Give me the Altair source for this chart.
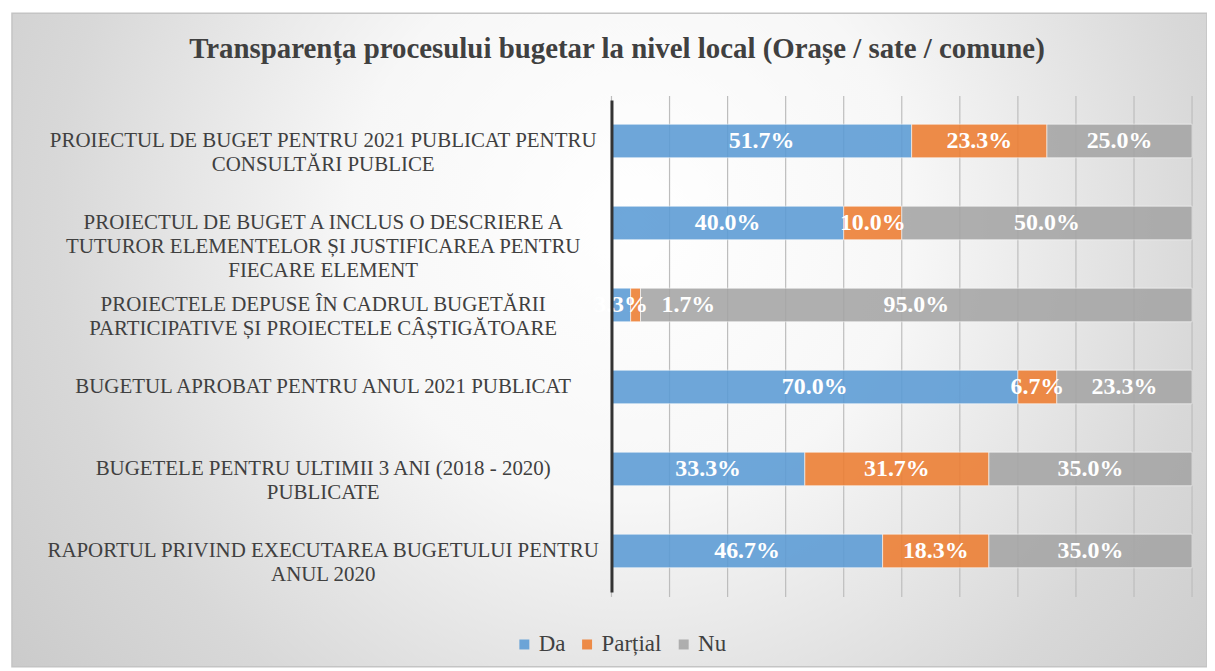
import altair as alt
import pandas as pd

categories = [
    "PROIECTUL DE BUGET PENTRU 2021 PUBLICAT PENTRU|CONSULTĂRI PUBLICE",
    "PROIECTUL DE BUGET A INCLUS O DESCRIERE A|TUTUROR ELEMENTELOR ȘI JUSTIFICAREA PENTRU|FIECARE ELEMENT",
    "PROIECTELE DEPUSE ÎN CADRUL BUGETĂRII|PARTICIPATIVE ȘI PROIECTELE CÂȘTIGĂTOARE",
    "BUGETUL APROBAT PENTRU ANUL 2021 PUBLICAT",
    "BUGETELE PENTRU ULTIMII 3 ANI (2018 - 2020)|PUBLICATE",
    "RAPORTUL PRIVIND EXECUTAREA BUGETULUI PENTRU|ANUL 2020",
]
series = ["Da", "Parțial", "Nu"]
da = [51.7, 40.0, 3.3, 70.0, 33.3, 46.7]
partial = [23.3, 10.0, 1.7, 6.7, 31.7, 18.3]
nu = [25.0, 50.0, 95.0, 23.3, 35.0, 35.0]
grid_ticks = [0, 10, 20, 30, 40, 50, 60, 70, 80, 90, 100]
colors = ["#5B9BD5", "#ED7D31", "#A5A5A5"]

rows = []
for i, c in enumerate(categories):
    for j, (s, v) in enumerate(zip(series, [da[i], partial[i], nu[i]])):
        rows.append({"cat": c, "serie": s, "ord": j, "val": v})
df = pd.DataFrame(rows)

W, H = 583, 494
PL, PT, PR, PB = 606, 91, 15, 75
FONT = "Liberation Serif"

bg = alt.Chart(pd.DataFrame({"a": [0]})).mark_rect(
    fill={
        "gradient": "radial",
        "x1": 0.52, "y1": 0.4, "x2": 0.52, "y2": 0.4, "r1": 0, "r2": 0.78,
        "stops": [
            {"offset": 0, "color": "#ffffff"},
            {"offset": 0.3, "color": "#f7f7f7"},
            {"offset": 0.62, "color": "#d8d8d8"},
            {"offset": 1, "color": "#bfbfbf"},
        ],
    },
    stroke="#c4c4c4", strokeWidth=1.5,
).encode(
    x=alt.value(-(PL - 4)), x2=alt.value(W + PR),
    y=alt.value(-(PT - 4)), y2=alt.value(H + PB),
)

grid = alt.Chart(pd.DataFrame({"g": grid_ticks})).mark_rule(
    color="#bdbdbd", strokeWidth=1.2
).encode(
    x=alt.X("g:Q", scale=alt.Scale(domain=[0, 100]), axis=None),
    y=alt.value(-4), y2=alt.value(H + 5),
)

ysc = alt.Scale(domain=categories, paddingInner=0.59, paddingOuter=0.295)
yax = alt.Axis(
    title=None, labelExpr="split(datum.label, '|')", labelFont=FONT,
    labelFontSize=21, labelColor="#404040", labelLineHeight=24,
    labelLimit=700, labelPadding=290, ticks=False, domain=True,
    domainColor="#333333", domainWidth=3, zindex=1, labelAlign="center",
)

base = alt.Chart(df)

bars = base.mark_bar(opacity=0.88, stroke="#ffffff", strokeWidth=1, strokeOpacity=0.6).encode(
    y=alt.Y("cat:N", scale=ysc, axis=yax, sort=categories),
    x=alt.X("val:Q", stack="zero", scale=alt.Scale(domain=[0, 100]), axis=None),
    color=alt.Color(
        "serie:N",
        scale=alt.Scale(domain=series, range=colors),
        legend=alt.Legend(
            title=None, orient="none", direction="horizontal",
            legendX=-99, legendY=535, symbolType="square", symbolSize=100,
            symbolStrokeWidth=0, labelFont=FONT, labelFontSize=23,
            labelColor="#404040", columnPadding=10, labelOffset=3,
            symbolOpacity=0.88,
        ),
    ),
    order=alt.Order("ord:Q"),
)

text_base = base.transform_stack(
    stack="val", groupby=["cat"], as_=["x0", "x1"], sort=[alt.SortField("ord")]
).transform_calculate(
    mid="(datum.x0 + datum.x1) / 2",
    lab="format(datum.val, '.1f') + '%'",
)

labels = text_base.transform_filter("datum.val >= 2 || datum.ord == 0").mark_text(
    font=FONT, fontSize=24, fontWeight="bold", color="white", baseline="middle"
).encode(
    x=alt.X("mid:Q", scale=alt.Scale(domain=[0, 100]), axis=None),
    y=alt.Y("cat:N", scale=ysc, sort=categories),
    text="lab:N",
)

small_labels = text_base.transform_filter("datum.val < 2 && datum.ord > 0").mark_text(
    font=FONT, fontSize=24, fontWeight="bold", color="white", baseline="middle", dx=53
).encode(
    x=alt.X("mid:Q", scale=alt.Scale(domain=[0, 100]), axis=None),
    y=alt.Y("cat:N", scale=ysc, sort=categories),
    text="lab:N",
)

chart = alt.layer(bg, grid, bars, labels, small_labels).properties(
    width=W, height=H,
    padding={"left": PL, "top": PT, "right": PR, "bottom": PB},
    autosize=alt.AutoSizeParams(type="none"),
    title=alt.TitleParams(
        "Transparența procesului bugetar la nivel local (Orașe / sate / comune)",
        font=FONT, fontSize=29, fontWeight="bold", color="#404040",
        anchor="middle", frame="group", dx=-286, dy=56,
    ),
).configure_view(stroke=None).configure(background="white").configure_legend(
    labelFont=FONT, labelFontSize=23
)

chart.save("out.html", embed_options={"renderer": "svg", "actions": False})
